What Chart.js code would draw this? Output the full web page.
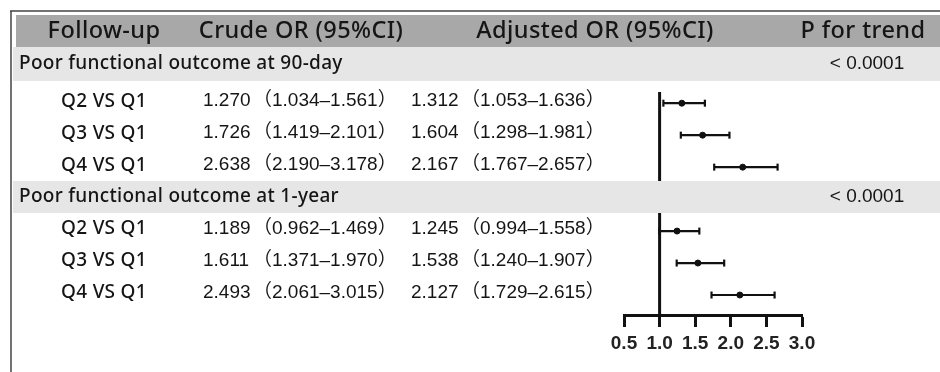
<!DOCTYPE html>
<html>
<head>
<meta charset="utf-8">
<script src="https://cdn.jsdelivr.net/npm/chart.js@4/dist/chart.umd.min.js"></script>
<style>
    html, body { margin: 0; padding: 0; background: #fff; }
    canvas { display: block; }
</style>
</head>
<body>
<canvas id="forestChart" width="940" height="372"></canvas>
<script>
// Table / plot data
const headers = ['Follow-up', 'Crude OR (95%CI)', 'Adjusted OR (95%CI)', 'P for trend'];
const groups = ['Poor functional outcome at 90-day', 'Poor functional outcome at 1-year'];
const pTrend = ['< 0.0001', '< 0.0001'];
const comparisons = ['Q2 VS Q1', 'Q3 VS Q1', 'Q4 VS Q1', 'Q2 VS Q1', 'Q3 VS Q1', 'Q4 VS Q1'];
const rowSlots = [1, 2, 3, 5, 6, 7];

const crudeOR = [1.270, 1.726, 2.638, 1.189, 1.611, 2.493];
const crudeLo = [1.034, 1.419, 2.190, 0.962, 1.371, 2.061];
const crudeHi = [1.561, 2.101, 3.178, 1.469, 1.970, 3.015];

const adjOR = [1.312, 1.604, 2.167, 1.245, 1.538, 2.127];
const adjLo = [1.053, 1.298, 1.767, 0.994, 1.240, 1.729];
const adjHi = [1.636, 1.981, 2.657, 1.558, 1.907, 2.615];

const xTicks = [0.5, 1.0, 1.5, 2.0, 2.5, 3.0];
const refValue = 1.0;

document.addEventListener('DOMContentLoaded', function() {
    const canvas = document.querySelector('#forestChart');
    const ctx = canvas.getContext('2d');

    const yMin = 0.65;
    const yMax = 7.625;
    const sans = '"Noto Sans", "Noto Sans CJK SC", sans-serif';
    const nums = '"Liberation Sans", "Noto Sans CJK SC", sans-serif';

    // one little line dataset per confidence interval
    const ciSets = rowSlots.map((slot, i) => ({
        type: 'line',
        data: [{ x: adjLo[i], y: slot }, { x: adjHi[i], y: slot }],
        borderColor: '#111',
        borderWidth: 2.2,
        pointStyle: 'line',
        rotation: 90,
        pointRadius: 3.5,
        pointBorderWidth: 2.2,
        pointBorderColor: '#111',
        fill: false
    }));

    // table, bands and frame drawn around the plot
    const tablePlugin = {
        id: 'tablePlugin',
        beforeDraw(chart) {
            const c = chart.ctx;
            c.save();
            c.fillStyle = '#fff';
            c.fillRect(0, 0, chart.width, chart.height);
            c.restore();
        },
        afterDraw(chart) {
            const c = chart.ctx;
            const yScale = chart.scales.y;
            c.save();

            // frame
            c.strokeStyle = '#444';
            c.lineWidth = 1.5;
            c.beginPath();
            c.moveTo(10, 11);
            c.lineTo(940, 11);
            c.moveTo(11, 11);
            c.lineTo(11, 372);
            c.stroke();

            // header band
            c.fillStyle = '#a8a8a8';
            c.fillRect(16, 15, 924, 32);
            // group bands
            c.fillStyle = '#e6e6e6';
            c.fillRect(13, 47, 927, 34);
            c.fillRect(13, 181, 927, 32);

            c.fillStyle = '#151515';
            c.textBaseline = 'middle';

            // header
            c.font = '500 23.5px ' + sans;
            c.textAlign = 'center';
            c.letterSpacing = '0.4px';
            c.fillText(headers[0], 104, 31);
            c.fillText(headers[1], 301, 31);
            c.fillText(headers[2], 595, 31);
            c.fillText(headers[3], 863, 31);

            // group titles and p for trend
            const groupY = [64, 197];
            groups.forEach((g, i) => {
                c.font = '500 19px ' + sans;
                c.textAlign = 'left';
                c.letterSpacing = '0.3px';
                c.fillText(g, 19, groupY[i]);
                c.textAlign = 'center';
                c.letterSpacing = '0px';
                c.font = '400 19px ' + nums;
                c.fillText(pTrend[i], 867, groupY[i]);
            });

            // rows
            rowSlots.forEach((slot, i) => {
                const y = yScale.getPixelForValue(slot) - 2;
                c.font = '500 19px ' + sans;
                c.letterSpacing = '0.3px';
                c.textAlign = 'center';
                c.fillText(comparisons[i], 104, y);
                c.textAlign = 'left';
                c.letterSpacing = '0px';
                c.font = '400 19px ' + nums;
                c.fillText(crudeOR[i].toFixed(3), 203, y);
                c.fillText('（' + crudeLo[i].toFixed(3) + '–' + crudeHi[i].toFixed(3) + '）', 253, y);
                c.fillText(adjOR[i].toFixed(3), 411, y);
                c.fillText('（' + adjLo[i].toFixed(3) + '–' + adjHi[i].toFixed(3) + '）', 461, y);
            });

            c.restore();
        }
    };

    new Chart(ctx, {
        type: 'scatter',
        data: {
            datasets: [
                {
                    type: 'line',
                    data: [{ x: refValue, y: yMin }, { x: refValue, y: yMax }],
                    borderColor: '#111',
                    borderWidth: 3,
                    pointRadius: 0,
                    fill: false
                },
                ...ciSets,
                {
                    data: rowSlots.map((slot, i) => ({ x: adjOR[i], y: slot })),
                    backgroundColor: '#111',
                    borderColor: '#111',
                    pointRadius: 3,
                    pointStyle: 'circle'
                }
            ]
        },
        options: {
            responsive: false,
            animation: false,
            devicePixelRatio: 1,
            layout: {
                padding: { left: 624, right: 138, top: 92, bottom: 0 }
            },
            scales: {
                x: {
                    type: 'linear',
                    position: 'bottom',
                    min: 0.5,
                    max: 3.0,
                    afterBuildTicks: function(scale) {
                        scale.ticks = xTicks.map(v => ({ value: v }));
                    },
                    afterFit: function(scale) {
                        scale.height = 57;
                    },
                    grid: {
                        drawOnChartArea: false,
                        drawTicks: true,
                        tickLength: 12,
                        tickWidth: 3,
                        color: '#111'
                    },
                    border: {
                        display: true,
                        color: '#111',
                        width: 3
                    },
                    ticks: {
                        padding: 5,
                        color: '#222',
                        maxRotation: 0,
                        autoSkip: false,
                        font: { family: '"Liberation Sans", Arial, sans-serif', size: 19, weight: 'bold' },
                        callback: function(value) {
                            return Number(value).toFixed(1);
                        }
                    }
                },
                y: {
                    type: 'linear',
                    display: false,
                    reverse: true,
                    min: yMin,
                    max: yMax
                }
            },
            plugins: {
                legend: { display: false },
                tooltip: { enabled: false }
            }
        },
        plugins: [tablePlugin]
    });
});
</script>
</body>
</html>
